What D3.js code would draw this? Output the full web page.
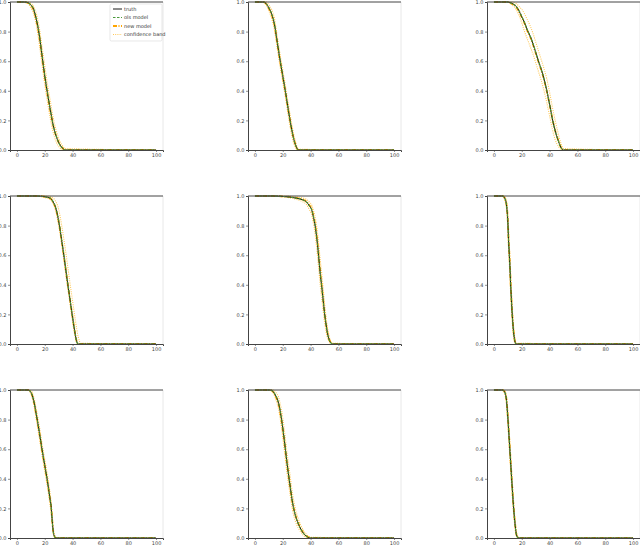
<!DOCTYPE html>
<html><head><meta charset="utf-8">
<script src="https://cdn.jsdelivr.net/npm/d3@7"></script>
<style>html,body{margin:0;padding:0;background:#fff;}svg{display:block;}</style>
</head><body>
<svg id="c" width="640" height="547"></svg>
<script>
const xTicks = [0, 20, 40, 60, 80, 100];
const yTicks = [0, 0.2, 0.4, 0.6, 0.8, 1.0];
const seriesNames = ["truth", "ols model", "new model", "confidence band"];

const p1_t     = [0,5,8,10,12,14,16,18,20,22,24,26,28,30,32,35,100];
const p1_truth = [1,1,0.995,0.98,0.95,0.88,0.78,0.64,0.5,0.38,0.27,0.17,0.1,0.05,0.02,0,0];
const p1_ols   = [1,1,0.995,0.98,0.952,0.885,0.785,0.645,0.505,0.385,0.27,0.17,0.1,0.05,0.02,0,0];
const p1_new   = [1,1,0.993,0.978,0.946,0.875,0.772,0.632,0.495,0.375,0.265,0.168,0.1,0.052,0.022,0,0];
const p1_hi    = [1,1,1,0.99,0.97,0.92,0.83,0.70,0.57,0.44,0.33,0.22,0.14,0.08,0.04,0.01,0];
const p1_lo    = [1,1,0.99,0.96,0.92,0.84,0.72,0.58,0.44,0.32,0.21,0.12,0.06,0.025,0.005,0,0];

const p2_t     = [0,6,8,10,12,14,16,18,20,22,24,26,28,30,31,100];
const p2_truth = [1,1,0.99,0.96,0.92,0.85,0.73,0.61,0.5,0.39,0.27,0.16,0.07,0.015,0,0];
const p2_ols   = [1,1,0.99,0.962,0.922,0.853,0.735,0.613,0.502,0.39,0.27,0.158,0.07,0.015,0,0];
const p2_new   = [1,1,0.988,0.957,0.915,0.845,0.725,0.605,0.495,0.385,0.268,0.16,0.072,0.017,0,0];
const p2_hi    = [1,1,1,0.98,0.95,0.89,0.77,0.65,0.54,0.43,0.31,0.2,0.1,0.03,0.005,0];
const p2_lo    = [1,1,0.98,0.94,0.89,0.81,0.69,0.57,0.46,0.35,0.23,0.12,0.04,0.005,0,0];

const p3_t     = [0,10,13,16,18,20,22,24,26,28,30,32,34,36,38,40,42,44,46,48,50,100];
const p3_truth = [1,1,0.99,0.97,0.94,0.9,0.86,0.81,0.77,0.72,0.66,0.6,0.545,0.48,0.4,0.31,0.21,0.13,0.07,0.02,0,0];
const p3_ols   = [1,1,0.99,0.97,0.942,0.903,0.862,0.813,0.772,0.722,0.662,0.602,0.546,0.482,0.402,0.31,0.21,0.13,0.07,0.02,0,0];
const p3_new   = [1,1,0.988,0.967,0.937,0.896,0.856,0.806,0.765,0.715,0.655,0.596,0.54,0.475,0.396,0.308,0.212,0.132,0.072,0.022,0,0];
const p3_hi    = [1,1,1,0.99,0.97,0.95,0.92,0.88,0.84,0.79,0.73,0.67,0.61,0.55,0.48,0.39,0.29,0.2,0.12,0.05,0.01,0];
const p3_lo    = [1,1,0.98,0.95,0.91,0.86,0.8,0.75,0.7,0.65,0.59,0.53,0.47,0.4,0.32,0.23,0.14,0.07,0.03,0.005,0,0];

const p4_t     = [0,14,20,24,26,27.5,30,32,34,36,38,40,42,43,44,46,100];
const p4_truth = [1,1,0.995,0.985,0.96,0.93,0.83,0.71,0.58,0.44,0.31,0.18,0.06,0.015,0,0,0];
const p4_ols   = [1,1,0.995,0.985,0.962,0.932,0.835,0.715,0.585,0.445,0.312,0.18,0.06,0.015,0,0,0];
const p4_new   = [1,1,0.995,0.984,0.958,0.928,0.828,0.708,0.578,0.44,0.31,0.182,0.062,0.017,0.002,0,0];
const p4_hi    = [1,1,1,0.995,0.985,0.97,0.91,0.81,0.69,0.56,0.42,0.29,0.16,0.1,0.05,0.005,0];
const p4_lo    = [1,1,0.99,0.975,0.945,0.91,0.80,0.68,0.55,0.41,0.28,0.15,0.04,0.008,0,0,0];

const p5_t     = [0,13,20,25,30,34,37,39,41,42,43,44,45,46,47,48,49,50,51,52,53,54,56,100];
const p5_truth = [1,1,0.997,0.993,0.985,0.975,0.96,0.935,0.9,0.86,0.815,0.75,0.67,0.57,0.47,0.39,0.3,0.21,0.14,0.08,0.04,0.015,0,0];
const p5_ols   = [1,1,0.997,0.993,0.985,0.975,0.96,0.936,0.902,0.862,0.818,0.752,0.672,0.572,0.472,0.39,0.3,0.21,0.14,0.08,0.04,0.015,0,0];
const p5_new   = [1,1,0.997,0.994,0.987,0.977,0.963,0.94,0.905,0.865,0.82,0.758,0.68,0.58,0.48,0.395,0.305,0.215,0.142,0.082,0.042,0.017,0.001,0];
const p5_hi    = [1,1,1,0.998,0.993,0.987,0.977,0.96,0.935,0.905,0.87,0.82,0.75,0.66,0.56,0.48,0.38,0.28,0.19,0.12,0.07,0.03,0.005,0];
const p5_lo    = [1,1,0.994,0.988,0.977,0.963,0.943,0.91,0.865,0.815,0.76,0.68,0.59,0.49,0.39,0.31,0.23,0.15,0.09,0.045,0.02,0.005,0,0];

const p6_t     = [0,6,7,8,9,10,10.5,11,11.5,12,12.5,13,13.5,14,14.5,15,16,100];
const p6_truth = [1,1,0.995,0.98,0.94,0.82,0.70,0.61,0.52,0.40,0.31,0.22,0.15,0.09,0.05,0.02,0,0];
const p6_ols   = [1,1,0.995,0.98,0.942,0.822,0.702,0.612,0.52,0.40,0.31,0.22,0.15,0.09,0.05,0.02,0,0];
const p6_new   = [1,1,0.996,0.982,0.945,0.83,0.71,0.62,0.53,0.41,0.315,0.225,0.155,0.095,0.055,0.022,0.001,0];
const p6_hi    = [1,1,1,0.99,0.965,0.87,0.76,0.67,0.58,0.47,0.37,0.28,0.2,0.13,0.08,0.04,0.005,0];
const p6_lo    = [1,1,0.99,0.965,0.91,0.77,0.64,0.55,0.46,0.34,0.25,0.17,0.1,0.055,0.025,0.008,0,0];

const p7_t     = [0,8,10,12,14,16,18,20,22,24,24.5,25,25.5,26,27,28,100];
const p7_truth = [1,1,0.985,0.93,0.83,0.72,0.60,0.49,0.38,0.25,0.22,0.16,0.10,0.05,0.01,0,0];
const p7_ols   = [1,1,0.986,0.932,0.832,0.722,0.602,0.49,0.38,0.25,0.22,0.16,0.10,0.05,0.01,0,0];
const p7_new   = [1,1,0.984,0.928,0.826,0.716,0.596,0.486,0.376,0.248,0.218,0.162,0.102,0.052,0.012,0,0];
const p7_hi    = [1,1,0.995,0.955,0.865,0.76,0.64,0.53,0.42,0.29,0.25,0.19,0.13,0.07,0.02,0.003,0];
const p7_lo    = [1,1,0.975,0.905,0.795,0.68,0.56,0.45,0.34,0.21,0.18,0.13,0.075,0.035,0.005,0,0];

const p8_t     = [0,11,13,15,17,19,21,23,25,27,29,31,33,35,37,40,100];
const p8_truth = [1,1,0.99,0.96,0.91,0.81,0.67,0.51,0.37,0.24,0.155,0.10,0.06,0.03,0.012,0,0];
const p8_ols   = [1,1,0.99,0.962,0.912,0.812,0.672,0.512,0.372,0.242,0.156,0.10,0.06,0.03,0.012,0,0];
const p8_new   = [1,1,0.988,0.955,0.905,0.8,0.66,0.505,0.365,0.24,0.158,0.103,0.062,0.032,0.014,0.001,0];
const p8_hi    = [1,1,1,0.985,0.95,0.87,0.74,0.58,0.44,0.3,0.2,0.135,0.085,0.05,0.025,0.005,0];
const p8_lo    = [1,1,0.98,0.935,0.87,0.75,0.6,0.44,0.31,0.19,0.115,0.07,0.04,0.015,0.005,0,0];

const p9_t     = [0,6,7,8,9,10,11,12,13,14,15,16,17,18,100];
const p9_truth = [1,1,0.995,0.98,0.93,0.81,0.66,0.51,0.36,0.22,0.11,0.03,0.005,0,0];
const p9_ols   = [1,1,0.995,0.98,0.932,0.812,0.662,0.51,0.36,0.22,0.11,0.03,0.005,0,0];
const p9_new   = [1,1,0.996,0.982,0.936,0.818,0.668,0.516,0.364,0.224,0.114,0.033,0.006,0,0];
const p9_hi    = [1,1,1,0.99,0.955,0.85,0.71,0.56,0.41,0.26,0.14,0.05,0.012,0.002,0];
const p9_lo    = [1,1,0.99,0.965,0.9,0.77,0.61,0.46,0.31,0.18,0.08,0.015,0.002,0,0];

const panels = [
  {t:p1_t, truth:p1_truth, ols:p1_ols, nw:p1_new, hi:p1_hi, lo:p1_lo},
  {t:p2_t, truth:p2_truth, ols:p2_ols, nw:p2_new, hi:p2_hi, lo:p2_lo},
  {t:p3_t, truth:p3_truth, ols:p3_ols, nw:p3_new, hi:p3_hi, lo:p3_lo},
  {t:p4_t, truth:p4_truth, ols:p4_ols, nw:p4_new, hi:p4_hi, lo:p4_lo},
  {t:p5_t, truth:p5_truth, ols:p5_ols, nw:p5_new, hi:p5_hi, lo:p5_lo},
  {t:p6_t, truth:p6_truth, ols:p6_ols, nw:p6_new, hi:p6_hi, lo:p6_lo},
  {t:p7_t, truth:p7_truth, ols:p7_ols, nw:p7_new, hi:p7_hi, lo:p7_lo},
  {t:p8_t, truth:p8_truth, ols:p8_ols, nw:p8_new, hi:p8_hi, lo:p8_lo},
  {t:p9_t, truth:p9_truth, ols:p9_ols, nw:p9_new, hi:p9_hi, lo:p9_lo}
];

const colLeft = [10, 248, 487];
const rowTop = [2, 196, 390];
const W = 153, H = 148;
const C = {truth:"#1a1a1a", ols:"#4a9a3a", nw:"#ffa500", band:"#ffc857"};
const svg = d3.select("#c");
const FONT = "DejaVu Sans, sans-serif";

panels.forEach((p, i) => {
  const L = colLeft[i % 3], T = rowTop[Math.floor(i / 3)];
  const x = d3.scaleLinear().domain([-5, 105]).range([L, L + W]);
  const y = d3.scaleLinear().domain([0, 1]).range([T + H, T]);
  const g = svg.append("g");

  const line = arr => d3.line().x((d, k) => x(p.t[k])).y(d => y(d)).curve(d3.curveMonotoneX)(arr);

  g.append("line").attr("x1", L + W).attr("x2", L + W).attr("y1", T).attr("y2", T + H)
    .attr("stroke", "#e2e2e2").attr("stroke-width", 0.8);

  [p.hi, p.lo].forEach(a => g.append("path").attr("d", line(a)).attr("fill", "none")
    .attr("stroke", C.band).attr("stroke-width", 1.1).attr("stroke-dasharray", "1,1.2"));
  g.append("path").attr("d", line(p.nw)).attr("fill", "none").attr("stroke", C.nw)
    .attr("stroke-width", 1.8).attr("stroke-dasharray", "4,1.5,1,1.5");
  g.append("path").attr("d", line(p.truth)).attr("fill", "none").attr("stroke", C.truth)
    .attr("stroke-width", 1);
  g.append("path").attr("d", line(p.ols)).attr("fill", "none").attr("stroke", C.ols)
    .attr("stroke-width", 1.1).attr("stroke-dasharray", "2.5,1.5");

  const xa = g.append("g").attr("transform", `translate(0,${T + H})`)
    .call(d3.axisBottom(x).tickValues(xTicks).tickSize(2).tickPadding(1.5).tickFormat(d3.format("d")));
  const ya = g.append("g").attr("transform", `translate(${L},0)`)
    .call(d3.axisLeft(y).tickValues(yTicks).tickSize(2).tickPadding(1.5).tickFormat(d3.format(".1f")));
  [xa, ya].forEach(a => {
    a.select(".domain").attr("stroke", "#444").attr("stroke-width", 1);
    a.selectAll(".tick line").attr("stroke", "#444").attr("stroke-width", 0.6);
    a.selectAll(".tick text").attr("font-size", 5).attr("font-family", FONT).attr("fill", "#444");
  });
  g.append("line").attr("x1", L).attr("x2", L + W).attr("y1", T).attr("y2", T)
    .attr("stroke", "#444").attr("stroke-width", 1);
});

const lg = svg.append("g");
lg.append("rect").attr("x", 110).attr("y", 4).attr("width", 52).attr("height", 37).attr("rx", 1.5)
  .attr("fill", "#fff").attr("fill-opacity", 0.85).attr("stroke", "#d8d8d8").attr("stroke-width", 0.6);
const lstyles = [
  {c:C.truth, w:1, d:null},
  {c:C.ols, w:1.1, d:"2.5,1.5"},
  {c:C.nw, w:1.8, d:"4,1.5,1,1.5"},
  {c:C.band, w:1.1, d:"1,1.2"}
];
seriesNames.forEach((nm, k) => {
  const yy = 9 + k * 8.5;
  const ln = lg.append("line").attr("x1", 113).attr("x2", 122).attr("y1", yy).attr("y2", yy)
    .attr("stroke", lstyles[k].c).attr("stroke-width", lstyles[k].w);
  if (lstyles[k].d) ln.attr("stroke-dasharray", lstyles[k].d);
  lg.append("text").attr("x", 124).attr("y", yy + 1.8).attr("font-size", 5).attr("font-family", FONT)
    .attr("fill", "#333").text(nm);
});
</script>
</body></html>
